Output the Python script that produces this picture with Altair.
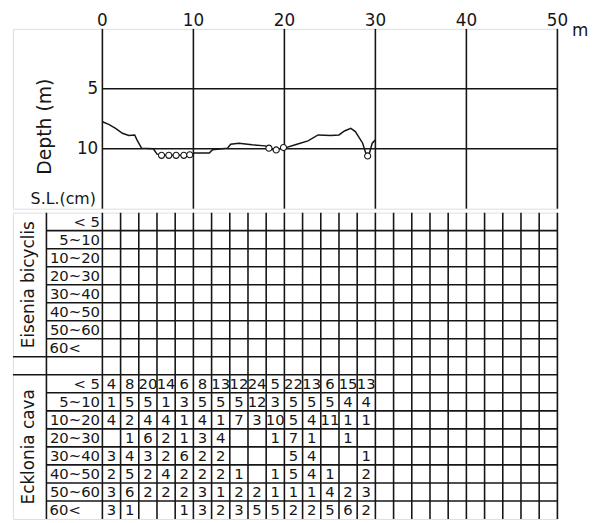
import altair as alt
import pandas as pd

# ---------------- data ----------------
distance_ticks = [0, 10, 20, 30, 40, 50]
depth_ticks = [5, 10]

profile_m = [0, 0.7, 1.45, 2.2, 2.9, 3.55, 3.8, 4.3, 5.6, 6.0,
             7.0, 8.0, 9.0, 9.8, 10.1, 10.7, 11.75, 12.1, 12.85, 13.75,
             14.1, 15.0, 16.45, 17.9, 18.8, 20.0, 21.2, 22.6, 23.7, 25.1,
             26.0, 26.6, 27.3, 27.8, 28.6, 29.0, 29.3, 29.65, 30.0]
profile_depth = [7.75, 7.97, 8.3, 8.71, 8.9, 8.85, 9.26, 9.95, 10.0, 10.45,
                 10.55, 10.55, 10.55, 10.5, 10.36, 10.36, 10.36, 10.08, 10.03, 9.95,
                 9.62, 9.54, 9.67, 9.76, 10.1, 9.95, 9.67, 9.34, 8.85, 8.9,
                 8.85, 8.52, 8.3, 8.57, 9.54, 10.5, 10.5, 9.54, 9.26]

cobble_m = [6.5, 7.3, 8.1, 8.95, 9.6, 18.3, 19.1, 19.9, 29.15]
cobble_depth = [10.55, 10.55, 10.55, 10.55, 10.5, 9.95, 10.1, 9.9, 10.6]

species = ["Eisenia bicyclis", "Ecklonia cava"]
size_classes = ["< 5", "5~10", "10~20", "20~30", "30~40", "40~50", "50~60", "60<"]
column_starts = list(range(0, 30, 2))          # 2 m quadrats, 0 - 30 m
grid_columns = list(range(0, 51, 2))           # quadrat boundaries, 0 - 50 m

eck_lt5 = [4, 8, 20, 14, 6, 8, 13, 12, 24, 5, 22, 13, 6, 15, 13]
eck_5_10 = [1, 5, 5, 1, 3, 5, 5, 5, 12, 3, 5, 5, 5, 4, 4]
eck_10_20 = [4, 2, 4, 4, 1, 4, 1, 7, 3, 10, 5, 4, 11, 1, 1]
eck_20_30 = [None, 1, 6, 2, 1, 3, 4, None, None, 1, 7, 1, None, 1, None]
eck_30_40 = [3, 4, 3, 2, 6, 2, 2, None, None, None, 5, 4, None, None, 1]
eck_40_50 = [2, 5, 2, 4, 2, 2, 2, 1, None, 1, 5, 4, 1, None, 2]
eck_50_60 = [3, 6, 2, 2, 2, 3, 1, 2, 2, 1, 1, 1, 4, 2, 3]
eck_60up = [3, 1, None, None, 1, 3, 2, 3, 5, 5, 2, 2, 5, 6, 2]
ecklonia_counts = [eck_lt5, eck_5_10, eck_10_20, eck_20_30,
                   eck_30_40, eck_40_50, eck_50_60, eck_60up]

# ---------------- layout constants ----------------
INK = "#161616"
FONT = "DejaVu Sans"
X_MIN = -9.83          # left frame edge (m units)
LABEL_EDGE = -6.15     # species / size-class column boundary
W = 551
H_TOP = 182
H_BOT = 310
D_MAX = 15
NROWS = len(size_classes)
TOTAL_ROWS = 2 * NROWS + 1
LW = 1.6

xscale = alt.Scale(domain=[X_MIN, 50], nice=False, zero=False)
dscale = alt.Scale(domain=[0, D_MAX], reverse=True, nice=False, zero=False)
rscale = alt.Scale(domain=[0, TOTAL_ROWS], reverse=True, nice=False, zero=False)


def X(field):
    return alt.X(field, scale=xscale, axis=None)


def XD(v):
    return alt.XDatum(v, type="quantitative", scale=xscale, axis=None)


def YD(v, sc):
    return alt.YDatum(v, type="quantitative", scale=sc, axis=None)


# ---------------- top panel: depth profile ----------------
dist_df = pd.DataFrame({"m": distance_ticks})
depth_df = pd.DataFrame({"d": depth_ticks})

vgrid = alt.Chart(dist_df).mark_rule(color=INK, strokeWidth=LW).encode(
    x=X("m:Q"), y=YD(0, dscale), y2=alt.Y2Datum(D_MAX),
)
dist_labels = alt.Chart(dist_df).mark_text(
    align="center", baseline="alphabetic", font=FONT, fontSize=17, color=INK
).encode(
    x=X("m:Q"), y=YD(-0.25, dscale), text="m:Q",
)
hgrid = alt.Chart(depth_df).mark_rule(color=INK, strokeWidth=LW).encode(
    x=XD(min(distance_ticks)), x2=alt.X2Datum(max(distance_ticks)),
    y=alt.Y("d:Q", scale=dscale, axis=None),
)
depth_labels = alt.Chart(depth_df).mark_text(
    align="right", baseline="middle", font=FONT, fontSize=17, color=INK
).encode(
    x=XD(-0.45), y=alt.Y("d:Q", scale=dscale, axis=None), text="d:Q",
)

profile = alt.Chart(pd.DataFrame({"m": profile_m, "d": profile_depth})).mark_line(
    color=INK, strokeWidth=1.5
).encode(
    x=X("m:Q"), y=alt.Y("d:Q", scale=dscale, axis=None),
)
cobbles = alt.Chart(pd.DataFrame({"m": cobble_m, "d": cobble_depth})).mark_point(
    shape="circle", size=38, filled=True, fill="white", stroke=INK, strokeWidth=1.1, opacity=1
).encode(
    x=X("m:Q"), y=alt.Y("d:Q", scale=dscale, axis=None),
)

depth_title = alt.Chart(pd.DataFrame({"t": ["Depth (m)"]})).mark_text(
    angle=270, align="center", baseline="middle", font=FONT, fontSize=19, color=INK
).encode(x=XD(-6.26), y=YD(8.16, dscale), text="t:N")

sl_title = alt.Chart(pd.DataFrame({"t": ["S.L.(cm)"]})).mark_text(
    align="center", baseline="alphabetic", font=FONT, fontSize=16, color=INK
).encode(x=XD(-4.3), y=YD(14.65, dscale), text="t:N")

unit_label = alt.Chart(pd.DataFrame({"t": ["m"]})).mark_text(
    align="left", baseline="alphabetic", font=FONT, fontSize=17, color=INK
).encode(x=XD(51.6), y=YD(0.6, dscale), text="t:N")

top = alt.layer(vgrid, hgrid, profile, cobbles, dist_labels, depth_labels,
                depth_title, sl_title, unit_label).properties(width=W, height=H_TOP)

# ---------------- bottom panel: size-class table ----------------
col_lines = alt.Chart(pd.DataFrame({"m": grid_columns})).mark_rule(color=INK, strokeWidth=LW).encode(
    x=X("m:Q"), y=YD(0, rscale), y2=alt.Y2Datum(TOTAL_ROWS),
)

line_rows = []
for k in range(1, TOTAL_ROWS):
    start = X_MIN if k in (NROWS, NROWS + 1) else LABEL_EDGE
    line_rows.append({"m": start, "m2": 50, "r": k})
row_lines = alt.Chart(pd.DataFrame(line_rows)).mark_rule(color=INK, strokeWidth=LW).encode(
    x=X("m:Q"), x2="m2:Q", y=alt.Y("r:Q", scale=rscale, axis=None),
)

edge_line = alt.Chart(pd.DataFrame({"t": ["edge"]})).mark_rule(color=INK, strokeWidth=LW).encode(
    x=XD(LABEL_EDGE), y=YD(0, rscale), y2=alt.Y2Datum(TOTAL_ROWS),
)

size_rows = []
for b in range(2):
    for i, cls in enumerate(size_classes):
        size_rows.append({"cls": cls, "r": b * (NROWS + 1) + i + 0.5})
size_df = pd.DataFrame(size_rows)

size_right = alt.Chart(size_df[size_df.cls != size_classes[-1]]).mark_text(
    align="right", baseline="middle", font=FONT, fontSize=15, color=INK
).encode(x=XD(-0.26), y=alt.Y("r:Q", scale=rscale, axis=None), text="cls:N")
size_left = alt.Chart(size_df[size_df.cls == size_classes[-1]]).mark_text(
    align="left", baseline="middle", font=FONT, fontSize=15, color=INK
).encode(x=XD(-5.8), y=alt.Y("r:Q", scale=rscale, axis=None), text="cls:N")

species_df = pd.DataFrame({"sp": species, "r": [NROWS / 2, NROWS + 1 + NROWS / 2]})
species_text = alt.Chart(species_df).mark_text(
    angle=270, align="center", baseline="middle", font=FONT, fontSize=17, color=INK
).encode(x=XD(-8.05), y=alt.Y("r:Q", scale=rscale, axis=None), text="sp:N")

cell_rows = []
for i, counts in enumerate(ecklonia_counts):
    for j, v in enumerate(counts):
        if v is not None:
            cell_rows.append({"m": column_starts[j] + 1, "r": NROWS + 1 + i + 0.5, "n": str(v)})
cells = alt.Chart(pd.DataFrame(cell_rows)).mark_text(
    align="center", baseline="middle", font=FONT, fontSize=15, color=INK
).encode(x=X("m:Q"), y=alt.Y("r:Q", scale=rscale, axis=None), text="n:N")

bottom = alt.layer(col_lines, row_lines, edge_line, size_right, size_left,
                   species_text, cells).properties(width=W, height=H_BOT)

chart = alt.vconcat(top, bottom, spacing=0).properties(
    padding={"left": 3, "top": 0, "right": 0, "bottom": 0}
).configure_view(
    stroke=INK, strokeWidth=1.8
).configure(background="white")

chart.save("out.html", embed_options={"renderer": "svg", "actions": False})
